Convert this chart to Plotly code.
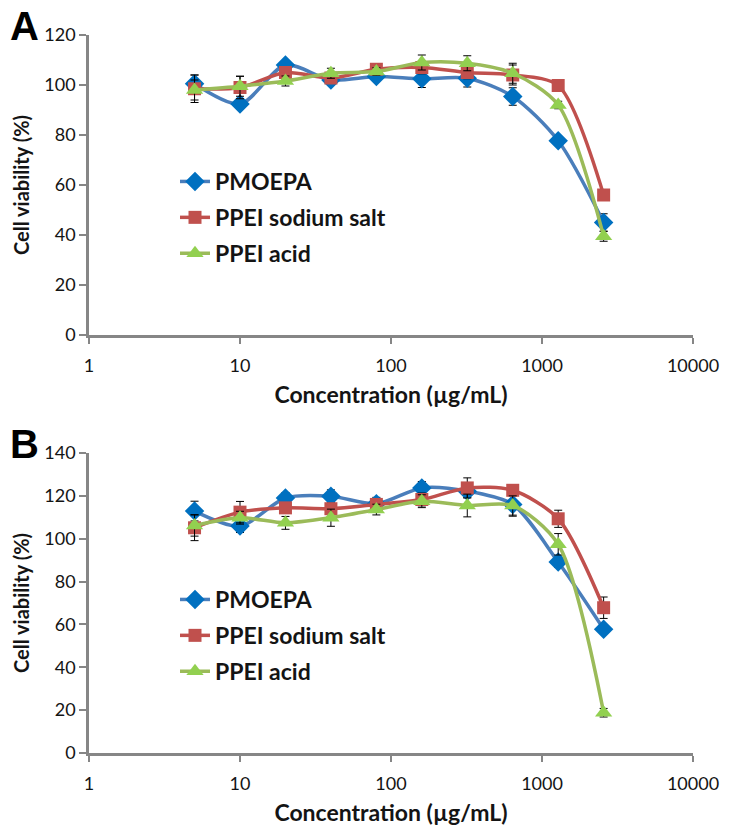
import plotly.graph_objects as go

conc = [5, 10, 20, 40, 80, 160, 320, 640, 1280, 2560]
series_names = ["PMOEPA", "PPEI sodium salt", "PPEI acid"]

# Panel A
a_pmoepa = [100.5, 92.4, 108.0, 102.0, 103.4, 102.5, 102.7, 95.4, 77.7, 45.0]
a_sodium = [98.5, 99.0, 105.0, 102.8, 106.3, 107.0, 105.0, 104.0, 99.8, 56.0]
a_acid = [98.0, 99.5, 101.6, 104.7, 105.4, 109.0, 108.7, 104.7, 92.0, 39.5]
a_pmoepa_err = [3.5, 1.5, 1.5, 1.0, 1.5, 3.5, 3.5, 3.5, 1.5, 3.5]
a_sodium_err = [5.5, 4.5, 2.0, 1.5, 1.5, 2.5, 2.5, 4.0, 2.0, 1.5]
a_acid_err = [4.0, 4.0, 2.0, 2.0, 1.5, 3.0, 3.0, 4.0, 1.5, 2.0]

# Panel B
b_pmoepa = [112.9, 105.9, 119.0, 119.8, 116.3, 123.7, 122.2, 116.0, 89.1, 57.8]
b_sodium = [105.1, 112.4, 114.4, 114.0, 116.0, 118.3, 123.7, 122.6, 109.3, 67.8]
b_acid = [106.2, 109.8, 107.4, 109.8, 113.6, 117.5, 115.5, 115.5, 97.4, 18.8]
b_pmoepa_err = [4.6, 3.0, 2.5, 3.0, 3.0, 3.0, 3.0, 5.5, 2.5, 1.5]
b_sodium_err = [6.0, 5.0, 2.5, 2.5, 2.5, 3.0, 4.7, 1.5, 4.0, 5.0]
b_acid_err = [5.0, 3.0, 3.0, 4.0, 2.5, 3.0, 5.3, 4.5, 5.0, 2.0]

x_ticks = [1, 10, 100, 1000, 10000]
x_tick_text = ["1", "10", "100", "1000", "10000"]
a_y_ticks = [0, 20, 40, 60, 80, 100, 120]
b_y_ticks = [0, 20, 40, 60, 80, 100, 120, 140]

line_colors = ["#4A7EBB", "#C0504D", "#9BBB59"]
marker_colors = ["#0070C0", "#C0504D", "#92D050"]
symbols = ["diamond", "square", "triangle-up"]
marker_sizes = [15, 13, 15]

FONT = "Lato"
AX_COLOR = "#868686"
TXT = "#141414"

fig = go.Figure()

panels = [
    ("x", "y", "legend", [a_pmoepa, a_sodium, a_acid], [a_pmoepa_err, a_sodium_err, a_acid_err]),
    ("x2", "y2", "legend2", [b_pmoepa, b_sodium, b_acid], [b_pmoepa_err, b_sodium_err, b_acid_err]),
]

for xa, ya, leg, ys, errs in panels:
    for i in range(3):
        fig.add_trace(go.Scatter(
            x=conc, y=ys[i], name=series_names[i],
            xaxis=xa, yaxis=ya, legend=leg, legendgroup=leg + str(i),
            mode="lines+markers",
            line=dict(color=line_colors[i], width=3.5, shape="spline", smoothing=0.8),
            marker=dict(symbol=symbols[i], size=marker_sizes[i], color=marker_colors[i],
                        line=dict(width=0)),
            error_y=dict(type="data", array=errs[i], visible=True, color="#000000",
                         thickness=1, width=4),
        ))

xaxis_common = dict(
    type="log", range=[0, 4], tickvals=x_ticks, ticktext=x_tick_text, automargin=False,
    showgrid=False, zeroline=False, showline=True, linecolor=AX_COLOR, linewidth=2.5,
    ticks="outside", ticklen=6, tickcolor=AX_COLOR, tickwidth=2, ticklabelstandoff=7,
    tickfont=dict(family=FONT, size=18, color=TXT),
    title=dict(text="<b>Concentration (µg/mL)</b>", font=dict(family=FONT, size=23, color=TXT),
               standoff=12),
)
yaxis_common = dict(
    showgrid=False, zeroline=False, showline=True, linecolor=AX_COLOR, linewidth=2.5,
    ticks="outside", ticklen=7, tickcolor=AX_COLOR, tickwidth=2, automargin=False,
    tickfont=dict(family=FONT, size=18, color=TXT),
    title=dict(text="<b>Cell viability (%)</b>", font=dict(family=FONT, size=20, color=TXT),
               standoff=10),
)

W, H = 729, 839
ML, MR, MT, MB = 89, 36, 35, 86
PW, PH = W - ML - MR, H - MT - MB


def px_x(px):
    return (px - ML) / PW


def px_y(py):
    return (H - MB - py) / PH


legend_common = dict(
    font=dict(family=FONT, size=23, color=TXT, weight="bold"),
    bgcolor="rgba(0,0,0,0)", xanchor="left", yanchor="top",
    traceorder="grouped", tracegroupgap=3, itemwidth=30,
)

fig.update_layout(
    width=W, height=H, margin=dict(l=ML, r=MR, t=MT, b=MB, autoexpand=False),
    paper_bgcolor="white", plot_bgcolor="white",
    showlegend=True,
    xaxis=dict(domain=[0, 1], anchor="y", **xaxis_common),
    yaxis=dict(domain=[px_y(335), px_y(35)], anchor="x", range=[0, 120], tickvals=a_y_ticks, **yaxis_common),
    xaxis2=dict(domain=[0, 1], anchor="y2", **xaxis_common),
    yaxis2=dict(domain=[px_y(753), px_y(453)], anchor="x2", range=[0, 140], tickvals=b_y_ticks, **yaxis_common),
    legend=dict(x=px_x(175), y=px_y(160), **legend_common),
    legend2=dict(x=px_x(175), y=px_y(578), **legend_common),
    annotations=[
        dict(text="<b>A</b>", x=px_x(8), y=px_y(2), xref="paper", yref="paper", xanchor="left", yanchor="top",
             showarrow=False, font=dict(family="Liberation Sans", size=40, color="#000000")),
        dict(text="<b>B</b>", x=px_x(8), y=px_y(420), xref="paper", yref="paper", xanchor="left", yanchor="top",
             showarrow=False, font=dict(family="Liberation Sans", size=40, color="#000000")),
    ],
)

fig.write_html("out.html", config={"displayModeBar": False},
               post_script="document.body.style.margin='0';")
